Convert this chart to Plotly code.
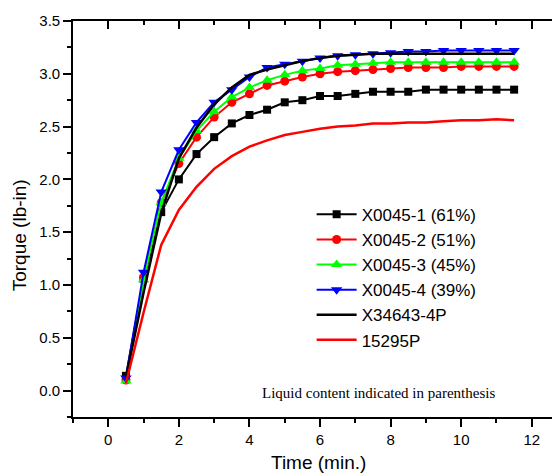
import plotly.graph_objects as go

time_min = [0.5, 1.0, 1.5, 2.0, 2.5, 3.0, 3.5, 4.0, 4.5, 5.0, 5.5, 6.0,
            6.5, 7.0, 7.5, 8.0, 8.5, 9.0, 9.5, 10.0, 10.5, 11.0, 11.5]

x0045_1 = [0.14, 1.06, 1.69, 2.00, 2.24, 2.40, 2.53, 2.61, 2.66, 2.73, 2.75, 2.79,
           2.79, 2.81, 2.83, 2.83, 2.83, 2.85, 2.85, 2.85, 2.85, 2.85, 2.85]
x0045_2 = [0.10, 1.07, 1.78, 2.15, 2.40, 2.59, 2.73, 2.81, 2.89, 2.93, 2.97, 3.00,
           3.02, 3.03, 3.04, 3.05, 3.06, 3.06, 3.06, 3.07, 3.07, 3.07, 3.07]
x0045_3 = [0.09, 1.05, 1.78, 2.20, 2.46, 2.64, 2.78, 2.87, 2.94, 2.99, 3.03, 3.05,
           3.08, 3.09, 3.10, 3.11, 3.11, 3.11, 3.11, 3.11, 3.11, 3.11, 3.11]
x0045_4 = [0.12, 1.12, 1.88, 2.28, 2.54, 2.73, 2.85, 2.97, 3.06, 3.09, 3.12, 3.15,
           3.17, 3.18, 3.19, 3.20, 3.21, 3.21, 3.22, 3.22, 3.22, 3.22, 3.22]
x34643_4p = [0.12, 0.93, 1.68, 2.20, 2.49, 2.71, 2.87, 2.99, 3.04, 3.08, 3.12, 3.15,
             3.17, 3.18, 3.19, 3.19, 3.19, 3.19, 3.19, 3.19, 3.19, 3.19, 3.19]
p15295 = [0.07, 0.74, 1.38, 1.71, 1.93, 2.10, 2.22, 2.31, 2.37, 2.42, 2.45, 2.48,
          2.50, 2.51, 2.53, 2.53, 2.54, 2.54, 2.55, 2.56, 2.56, 2.57, 2.56]

series_names = ["X0045-1 (61%)", "X0045-2 (51%)", "X0045-3 (45%)",
                "X0045-4 (39%)", "X34643-4P", "15295P"]
x_ticks = [0, 2, 4, 6, 8, 10, 12]
y_ticks = [0.0, 0.5, 1.0, 1.5, 2.0, 2.5, 3.0, 3.5]
x_range = [-1, 12.8]
y_range = [-0.25, 3.5]

FONT = "Liberation Sans, Arial, sans-serif"

fig = go.Figure()

marker_series = [
    (x0045_1, "#000000", "square", 8),
    (x0045_2, "#FF0000", "circle", 9),
    (x0045_3, "#00FF00", "triangle-up", 10),
    (x0045_4, "#0000FF", "triangle-down", 10),
]
for (vals, col, sym, sz), name in zip(marker_series, series_names[:4]):
    fig.add_trace(go.Scatter(
        x=time_min, y=vals, name=name, mode="lines+markers",
        line=dict(color=col, width=2),
        marker=dict(color=col, symbol=sym, size=sz, line=dict(width=0)),
    ))

fig.add_trace(go.Scatter(x=time_min, y=x34643_4p, name=series_names[4], mode="lines",
                         line=dict(color="#000000", width=2.5)))
fig.add_trace(go.Scatter(x=time_min, y=p15295, name=series_names[5], mode="lines",
                         line=dict(color="#FF0000", width=2.5)))

# dummy trace for mirror axes
fig.add_trace(go.Scatter(x=[], y=[], xaxis="x2", yaxis="y2", showlegend=False,
                         hoverinfo="skip"))

fig.update_layout(
    width=552, height=468,
    margin=dict(l=65, r=0, t=13, b=59),
    paper_bgcolor="white", plot_bgcolor="white",
    font=dict(family=FONT, color="black"),
    showlegend=True,
    legend=dict(x=0.49, y=0.556, xanchor="left", yanchor="top",
                font=dict(size=17, family=FONT), bgcolor="rgba(0,0,0,0)",
                tracegroupgap=0, itemwidth=40),
    xaxis=dict(range=x_range, tickmode="array", tickvals=x_ticks,
               ticks="outside", ticklen=8, tickwidth=1.5, tickcolor="black",
               showline=True, linewidth=1.6, linecolor="black",
               showgrid=False, zeroline=False,
               tickfont=dict(size=15, family=FONT),
               minor=dict(ticks="outside", ticklen=4, tickwidth=1.5, dtick=1,
                          tick0=0, tickcolor="black", showgrid=False)),
    yaxis=dict(range=y_range, tickmode="array", tickvals=y_ticks, tickformat=".1f",
               ticks="outside", ticklen=8, tickwidth=1.5, tickcolor="black",
               showline=True, linewidth=1.6, linecolor="black",
               showgrid=False, zeroline=False,
               tickfont=dict(size=15, family=FONT),
               minor=dict(ticks="outside", ticklen=4, tickwidth=1.5, dtick=0.25,
                          tick0=0, tickcolor="black", showgrid=False)),
    xaxis2=dict(range=x_range, overlaying="x", side="top", anchor="y2",
                tickmode="array", tickvals=x_ticks, showticklabels=False,
                ticks="inside", ticklen=8, tickwidth=1.5, tickcolor="black",
                showline=True, linewidth=1.6, linecolor="black",
                showgrid=False, zeroline=False,
                minor=dict(ticks="inside", ticklen=4, tickwidth=1.5, dtick=1,
                           tick0=0, tickcolor="black", showgrid=False)),
    yaxis2=dict(range=y_range, overlaying="y", side="right", anchor="x2",
                tickmode="array", tickvals=y_ticks, showticklabels=False,
                ticks="inside", ticklen=4, tickwidth=1.5, tickcolor="black",
                showline=False, showgrid=False, zeroline=False),
    annotations=[
        dict(text="Time (min.)", xref="paper", yref="paper", x=0.505, y=-0.116,
             xanchor="center", yanchor="middle", showarrow=False,
             font=dict(size=19, family=FONT)),
        dict(text="Torque (lb-in)", xref="paper", yref="paper", x=-0.11, y=0.46,
             xanchor="center", yanchor="middle", showarrow=False, textangle=-90,
             font=dict(size=19, family=FONT)),
        dict(text="Liquid content indicated in parenthesis", xref="paper", yref="paper",
             x=0.383, y=0.061, xanchor="left", yanchor="middle", showarrow=False,
             font=dict(size=15, family="Liberation Serif, Times New Roman, serif")),
    ],
)

fig.write_html("out.html")
